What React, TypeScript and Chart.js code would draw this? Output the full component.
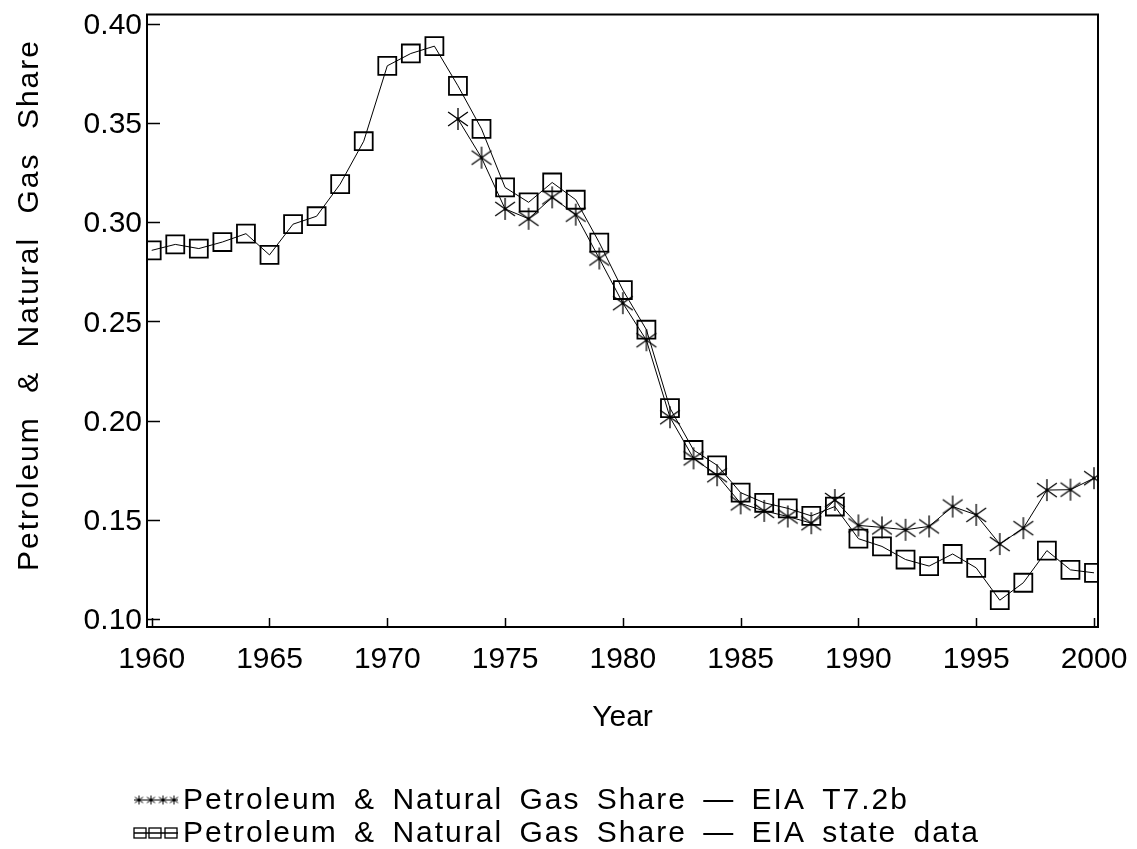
import { useEffect, useRef } from "react";
import { Chart, registerables } from "chart.js";

Chart.register(...registerables);

// ---- data ----
const stateYears = [
  1960, 1961, 1962, 1963, 1964, 1965, 1966, 1967, 1968, 1969,
  1970, 1971, 1972, 1973, 1974, 1975, 1976, 1977, 1978, 1979,
  1980, 1981, 1982, 1983, 1984, 1985, 1986, 1987, 1988, 1989,
  1990, 1991, 1992, 1993, 1994, 1995, 1996, 1997, 1998, 1999, 2000,
];
const stateShare = [
  0.2858, 0.2888, 0.2867, 0.29, 0.2942, 0.2835, 0.299, 0.303, 0.3192, 0.3408,
  0.3788, 0.385, 0.3887, 0.3687, 0.347, 0.3175, 0.31, 0.32, 0.3113, 0.2897,
  0.2658, 0.2458, 0.2063, 0.1852, 0.1775, 0.1637, 0.1586, 0.1558, 0.152, 0.1567,
  0.1405, 0.1366, 0.13, 0.1267, 0.1328, 0.1258, 0.1095, 0.1183, 0.1345, 0.1248, 0.1233,
];
const t72bYears = [
  1973, 1974, 1975, 1976, 1977, 1978, 1979, 1980, 1981, 1982,
  1983, 1984, 1985, 1986, 1987, 1988, 1989, 1990, 1991, 1992,
  1993, 1994, 1995, 1996, 1997, 1998, 1999, 2000,
];
const t72bShare = [
  0.352, 0.3325, 0.3067, 0.3017, 0.3125, 0.3038, 0.2817, 0.2592, 0.2405, 0.2017,
  0.181, 0.1725, 0.1583, 0.1545, 0.1517, 0.1483, 0.16, 0.1472, 0.1462, 0.145,
  0.1467, 0.1567, 0.1525, 0.1378, 0.1458, 0.165, 0.1652, 0.171,
];
const xTicks = [1960, 1965, 1970, 1975, 1980, 1985, 1990, 1995, 2000];
const yTicks = [0.1, 0.15, 0.2, 0.25, 0.3, 0.35, 0.4];
const legendLabels = [
  "Petroleum & Natural Gas Share — EIA T7.2b",
  "Petroleum & Natural Gas Share — EIA state data",
];
const yTitle = "Petroleum & Natural Gas Share";
const xTitle = "Year";

const FONT = "'Liberation Sans', Arial, sans-serif";
const FS = 30;

function makeStar(size: number, lw: number): HTMLCanvasElement {
  const c = document.createElement("canvas");
  c.width = size;
  c.height = size;
  const g = c.getContext("2d")!;
  const r = size / 2 - 1;
  const cx = size / 2;
  const cy = size / 2;
  g.strokeStyle = "#000";
  g.lineWidth = lw;
  g.beginPath();
  g.moveTo(cx, cy - r);
  g.lineTo(cx, cy + r);
  const a = (35 * Math.PI) / 180;
  const dx = Math.cos(a) * r * 1.1;
  const dy = Math.sin(a) * r * 1.1;
  g.moveTo(cx - dx, cy - dy);
  g.lineTo(cx + dx, cy + dy);
  g.moveTo(cx - dx, cy + dy);
  g.lineTo(cx + dx, cy - dy);
  g.stroke();
  g.fillStyle = "#000";
  g.beginPath();
  g.arc(cx, cy, 1.6, 0, Math.PI * 2);
  g.fill();
  return c;
}

// draw a string with given letter/word spacing as one fillText when the
// canvas supports it, otherwise word by word
function spacedText(
  ctx: CanvasRenderingContext2D,
  text: string,
  x: number,
  y: number,
  letter: number,
  word: number,
  align: "left" | "center"
) {
  const c: any = ctx;
  const supported = "letterSpacing" in c && "wordSpacing" in c;
  if (supported) {
    c.letterSpacing = `${letter}px`;
    c.wordSpacing = `${word}px`;
    const w = ctx.measureText(text).width;
    const sx = align === "center" ? x - w / 2 : x;
    ctx.textAlign = "left";
    ctx.fillText(text, sx, y);
    c.letterSpacing = "0px";
    c.wordSpacing = "0px";
    return;
  }
  const words = text.split(" ");
  const sp = ctx.measureText(" ").width;
  const gap = sp + word + letter * 2;
  let total = 0;
  words.forEach((w, i) => {
    total += ctx.measureText(w).width + w.length * letter + (i > 0 ? gap : 0);
  });
  let cx = align === "center" ? x - total / 2 : x;
  ctx.textAlign = "left";
  for (const w of words) {
    ctx.fillText(w, cx, y);
    cx += ctx.measureText(w).width + w.length * letter + gap;
  }
}

export default function App() {
  const ref = useRef<HTMLCanvasElement | null>(null);

  useEffect(() => {
    if (!ref.current) return;
    const star = makeStar(24, 1.3);
    const smallStar = makeStar(11, 1);

    const decor = {
      id: "decor",
      afterDraw(chart: any) {
        const ctx: CanvasRenderingContext2D = chart.ctx;
        const { left, right, top, bottom } = chart.chartArea;
        const xs = chart.scales.x;
        const ys = chart.scales.y;
        ctx.save();
        ctx.strokeStyle = "#000";
        // frame
        ctx.lineWidth = 2;
        ctx.strokeRect(left, top, right - left, bottom - top);
        // inward ticks
        ctx.lineWidth = 1.5;
        ctx.beginPath();
        for (const v of yTicks) {
          const py = Math.round(ys.getPixelForValue(v)) + 0.5;
          ctx.moveTo(left, py);
          ctx.lineTo(left + 13, py);
        }
        for (const v of xTicks) {
          const px = Math.round(xs.getPixelForValue(v)) + 0.5;
          ctx.moveTo(px, bottom);
          ctx.lineTo(px, bottom - 9);
        }
        ctx.stroke();

        // y title
        ctx.fillStyle = "#000";
        ctx.font = `${FS}px ${FONT}`;
        ctx.textBaseline = "middle";
        ctx.save();
        ctx.translate(30, 305);
        ctx.rotate(-Math.PI / 2);
        spacedText(ctx, yTitle, 0, 0, 2, 13, "center");
        ctx.restore();

        // legend
        const rows = [800, 833];
        ctx.lineWidth = 1;
        ctx.beginPath();
        ctx.moveTo(134, rows[0]);
        ctx.lineTo(178, rows[0]);
        ctx.stroke();
        [139, 151, 163, 174].forEach((sx) => {
          ctx.drawImage(smallStar, sx - smallStar.width / 2, rows[0] - smallStar.height / 2);
        });
        ctx.lineWidth = 1.3;
        ctx.beginPath();
        ctx.moveTo(134, rows[1]);
        ctx.lineTo(178, rows[1]);
        ctx.stroke();
        [140, 155, 171].forEach((sx) => {
          ctx.strokeRect(sx - 6, rows[1] - 5, 12, 10);
        });
        ctx.font = `${FS}px ${FONT}`;
        ctx.textBaseline = "middle";
        legendLabels.forEach((lab, i) => {
          spacedText(ctx, lab, 183, rows[i] + 1, 2, 6, "left");
        });
        ctx.restore();
      },
    };

    const chart = new Chart(ref.current, {
      type: "line",
      data: {
        datasets: [
          {
            label: legendLabels[0],
            data: t72bYears.map((yr, i) => ({ x: yr, y: t72bShare[i] })),
            borderColor: "#000",
            borderWidth: 1,
            backgroundColor: "transparent",
            pointStyle: star as any,
            pointRadius: 10,
            tension: 0,
          },
          {
            label: legendLabels[1],
            data: stateYears.map((yr, i) => ({ x: yr, y: stateShare[i] })),
            borderColor: "#000",
            borderWidth: 1,
            backgroundColor: "transparent",
            pointStyle: "rect",
            pointRadius: 12.7,
            pointBorderWidth: 1.8,
            pointBorderColor: "#000",
            pointBackgroundColor: "transparent",
            tension: 0,
          },
        ],
      },
      options: {
        responsive: false,
        animation: false,
        devicePixelRatio: 1,
        events: [],
        layout: { padding: { top: 9, right: 39, left: 0, bottom: 0 } },
        plugins: {
          legend: { display: false },
          tooltip: { enabled: false },
        },
        scales: {
          x: {
            type: "linear",
            min: 1959.8,
            max: 2000.17,
            grid: { display: false, drawTicks: false },
            border: { display: false },
            ticks: {
              color: "#000",
              font: { family: FONT, size: FS },
              padding: 15,
              maxRotation: 0,
              autoSkip: false,
              callback: (v: any) => String(v),
            },
            afterBuildTicks: (s: any) => {
              s.ticks = xTicks.map((v) => ({ value: v }));
            },
            afterFit: (s: any) => {
              s.height = 222;
              s.paddingLeft = 0;
              s.paddingRight = 0;
            },
            title: {
              display: true,
              text: xTitle,
              color: "#000",
              font: { family: FONT, size: FS },
              padding: { top: 0, bottom: 113 },
            },
          },
          y: {
            type: "linear",
            min: 0.096,
            max: 0.40465,
            grid: { display: false, drawTicks: false },
            border: { display: false },
            ticks: {
              color: "#000",
              font: { family: FONT, size: FS },
              padding: 5,
              labelOffset: 2,
              autoSkip: false,
              callback: (v: any) => Number(v).toFixed(2),
            },
            afterBuildTicks: (s: any) => {
              s.ticks = yTicks.map((v) => ({ value: v }));
            },
            afterFit: (s: any) => {
              s.width = 147;
              s.paddingTop = 0;
              s.paddingBottom = 0;
            },
          },
        },
      },
      plugins: [decor],
    });
    return () => chart.destroy();
  }, []);

  return (
    <div style={{ position: "fixed", left: 0, top: 0, width: 1137, height: 849, background: "#fff" }}>
      <canvas ref={ref} width={1137} height={849} style={{ display: "block" }} />
    </div>
  );
}
